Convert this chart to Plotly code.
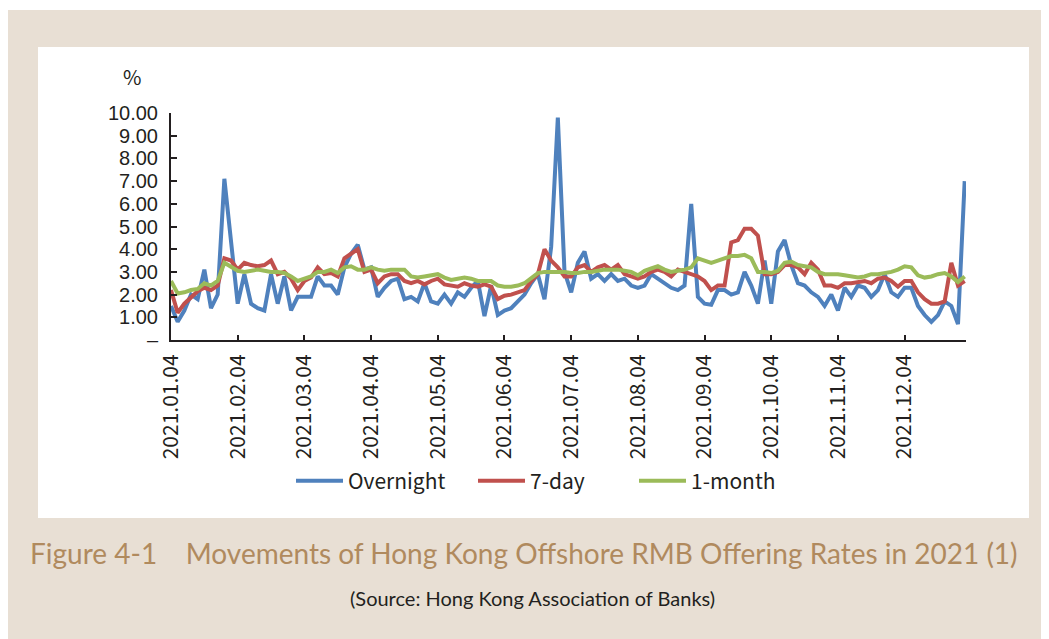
import plotly.graph_objects as go

# ---------------- data ----------------
tick_labels = ["2021.01.04", "2021.02.04", "2021.03.04", "2021.04.04", "2021.05.04", "2021.06.04",
               "2021.07.04", "2021.08.04", "2021.09.04", "2021.10.04", "2021.11.04", "2021.12.04"]
points_per_month = 10

overnight = [1.5, 0.8, 1.3, 2.0, 1.8, 3.1, 1.4, 2.0, 7.1, 4.3,
             1.6, 2.9, 1.6, 1.4, 1.3, 2.9, 1.6, 2.8, 1.3, 1.9,
             1.9, 1.9, 2.8, 2.4, 2.4, 2.0, 3.2, 3.8, 4.2, 3.1,
             3.2, 1.9, 2.3, 2.6, 2.7, 1.8, 1.9, 1.7, 2.5, 1.7,
             1.6, 2.0, 1.6, 2.1, 1.9, 2.3, 2.6, 1.05, 2.4, 1.1,
             1.3, 1.4, 1.7, 2.0, 2.5, 2.9, 1.8, 4.1, 9.8, 3.0,
             2.1, 3.4, 3.9, 2.7, 2.9, 2.6, 2.9, 2.6, 2.7, 2.4,
             2.3, 2.4, 2.9, 2.7, 2.5, 2.3, 2.2, 2.4, 6.0, 1.9,
             1.6, 1.55, 2.2, 2.2, 2.0, 2.1, 3.0, 2.4, 1.6, 3.5,
             1.6, 3.9, 4.4, 3.3, 2.5, 2.4, 2.1, 1.9, 1.5, 2.0,
             1.3, 2.3, 1.9, 2.4, 2.3, 1.9, 2.2, 2.9, 2.1, 1.9,
             2.3, 2.3, 1.5, 1.1, 0.8, 1.1, 1.7, 1.5, 0.7, 7.0]

seven_day = [2.2, 1.2, 1.6, 1.9, 2.15, 2.3, 2.2, 2.4, 3.6, 3.5,
             3.1, 3.4, 3.3, 3.25, 3.3, 3.5, 2.9, 3.0, 2.7, 2.2,
             2.6, 2.75, 3.2, 2.9, 2.95, 2.8, 3.6, 3.8, 4.0, 3.0,
             3.1, 2.5, 2.8, 2.9, 2.9, 2.6, 2.5, 2.6, 2.45, 2.6,
             2.7, 2.45, 2.4, 2.35, 2.5, 2.4, 2.35, 2.45, 2.35, 1.8,
             1.95, 2.0, 2.1, 2.2, 2.6, 2.9, 4.0, 3.5, 3.2, 2.8,
             2.8, 3.2, 3.3, 3.0, 3.2, 3.3, 3.1, 3.3, 2.9, 2.8,
             2.7, 2.8, 3.0, 3.1, 3.0, 2.8, 3.1, 3.0, 2.9, 2.8,
             2.6, 2.2, 2.4, 2.4, 4.3, 4.4, 4.9, 4.9, 4.6, 2.9,
             2.9, 3.0, 3.3, 3.3, 3.2, 2.9, 3.4, 3.1, 2.4, 2.4,
             2.3, 2.5, 2.5, 2.55, 2.6, 2.5, 2.7, 2.75, 2.6, 2.35,
             2.6, 2.6, 2.1, 1.8, 1.6, 1.6, 1.7, 3.4, 2.4, 2.6]

one_month = [2.6, 2.05, 2.1, 2.2, 2.25, 2.5, 2.4, 2.6, 3.4, 3.2,
             3.05, 3.0, 3.05, 3.1, 3.05, 3.0, 3.0, 2.95, 2.8, 2.6,
             2.7, 2.8, 3.0, 3.0, 3.1, 2.95, 3.2, 3.25, 3.1, 3.1,
             3.2, 3.1, 3.05, 3.1, 3.1, 3.1, 2.8, 2.75, 2.8, 2.85,
             2.9, 2.75, 2.65, 2.7, 2.75, 2.7, 2.6, 2.6, 2.6, 2.4,
             2.35, 2.35, 2.4, 2.5, 2.7, 2.95, 3.0, 3.0, 3.0, 3.0,
             2.95, 2.95, 3.0, 3.0, 3.05, 3.1, 3.1, 3.1, 3.05, 3.0,
             2.85, 3.05, 3.15, 3.25, 3.1, 3.0, 3.05, 3.1, 3.2, 3.6,
             3.5, 3.4, 3.5, 3.6, 3.7, 3.7, 3.75, 3.6, 3.0, 3.0,
             2.95, 3.05, 3.4, 3.45, 3.3, 3.25, 3.2, 3.0, 2.9, 2.9,
             2.9, 2.85, 2.8, 2.75, 2.8, 2.9, 2.9, 2.95, 3.0, 3.1,
             3.25, 3.2, 2.85, 2.75, 2.8, 2.9, 2.95, 2.8, 2.55, 2.8]

y_ticks = [0, 1, 2, 3, 4, 5, 6, 7, 8, 9, 10]
y_labels = ["–", "1.00", "2.00", "3.00", "4.00", "5.00", "6.00", "7.00", "8.00", "9.00", "10.00"]

series_names = ["Overnight", "7-day", "1-month"]
series_colors = ["#4F81BD", "#C0504D", "#9BBB59"]

# ---------------- layout geometry ----------------
# The page adds an 8px body margin, so the figure is shifted by OFF.
OFF = 8
W, H = 1049 - OFF, 639 - OFF
# plot area in page pixels
PL, PR, PT, PB = 171, 966, 113, 340


def px_x(px):
    return (px - PL) / (PR - PL)


def px_y(py):
    return (PB - py) / (PB - PT)


TXT = "#231F20"
FONT = "Noto Sans CJK JP"

x_idx = list(range(len(overnight)))
fig = go.Figure()
for name, vals, col, lg in zip(series_names, [overnight, seven_day, one_month], series_colors,
                               ["legend", "legend2", "legend3"]):
    fig.add_trace(go.Scatter(x=x_idx, y=vals, mode="lines", name=name, legend=lg,
                             line=dict(color=col, width=4)))

legend_common = dict(orientation="h", yanchor="middle", xanchor="left", y=px_y(481),
                     font=dict(family=FONT, size=21, color=TXT), bgcolor="rgba(0,0,0,0)",
                     itemwidth=47)

fig.update_layout(
    width=W, height=H,
    margin=dict(l=PL - OFF, r=W - (PR - OFF), t=PT - OFF, b=H - (PB - OFF), pad=0),
    paper_bgcolor="white", plot_bgcolor="rgba(0,0,0,0)",
    showlegend=True,
    legend=dict(x=px_x(291), **legend_common),
    legend2=dict(x=px_x(473), **legend_common),
    legend3=dict(x=px_x(634), **legend_common),
    xaxis=dict(range=[0, len(overnight) - 1 + 0.2], showgrid=False, zeroline=False,
               showline=True, linecolor=TXT, linewidth=2,
               tickvals=[i * points_per_month for i in range(len(tick_labels))],
               ticktext=tick_labels, tickangle=-90,
               ticks="inside", ticklen=5, tickwidth=2, tickcolor=TXT,
               ticklabelstandoff=4,
               tickfont=dict(family=FONT, size=21, color=TXT)),
    yaxis=dict(range=[0, 10], showgrid=False, zeroline=False,
               showline=True, linecolor=TXT, linewidth=2,
               tickvals=y_ticks, ticktext=y_labels,
               ticks="inside", ticklen=6, tickwidth=2, tickcolor=TXT,
               ticklabelstandoff=7,
               tickfont=dict(family="Liberation Sans", size=20, color=TXT)),
    shapes=[
        dict(type="rect", xref="paper", yref="paper", layer="below",
             x0=px_x(6), x1=px_x(1049), y0=px_y(639), y1=px_y(10),
             fillcolor="#E8DFD4", line=dict(width=0)),
        dict(type="rect", xref="paper", yref="paper", layer="below",
             x0=px_x(38), x1=px_x(1029), y0=px_y(518), y1=px_y(47),
             fillcolor="white", line=dict(width=0)),
    ],
    annotations=[
        dict(text="%", xref="paper", yref="paper", x=px_x(132), y=px_y(76),
             xanchor="center", yanchor="middle", showarrow=False,
             font=dict(family=FONT, size=20, color=TXT)),
        dict(text="Figure 4-1\u00a0\u00a0\u00a0\u00a0Movements of Hong Kong Offshore RMB Offering Rates in 2021 (1)",
             xref="paper", yref="paper", x=px_x(524), y=px_y(553),
             xanchor="center", yanchor="middle", showarrow=False,
             font=dict(family="Lato", size=28, color="#B08A5E")),
        dict(text="(Source: Hong Kong Association of Banks)",
             xref="paper", yref="paper", x=px_x(532), y=px_y(598),
             xanchor="center", yanchor="middle", showarrow=False,
             font=dict(family="Lato", size=20, color=TXT)),
    ],
)

fig.write_html("out.html")
